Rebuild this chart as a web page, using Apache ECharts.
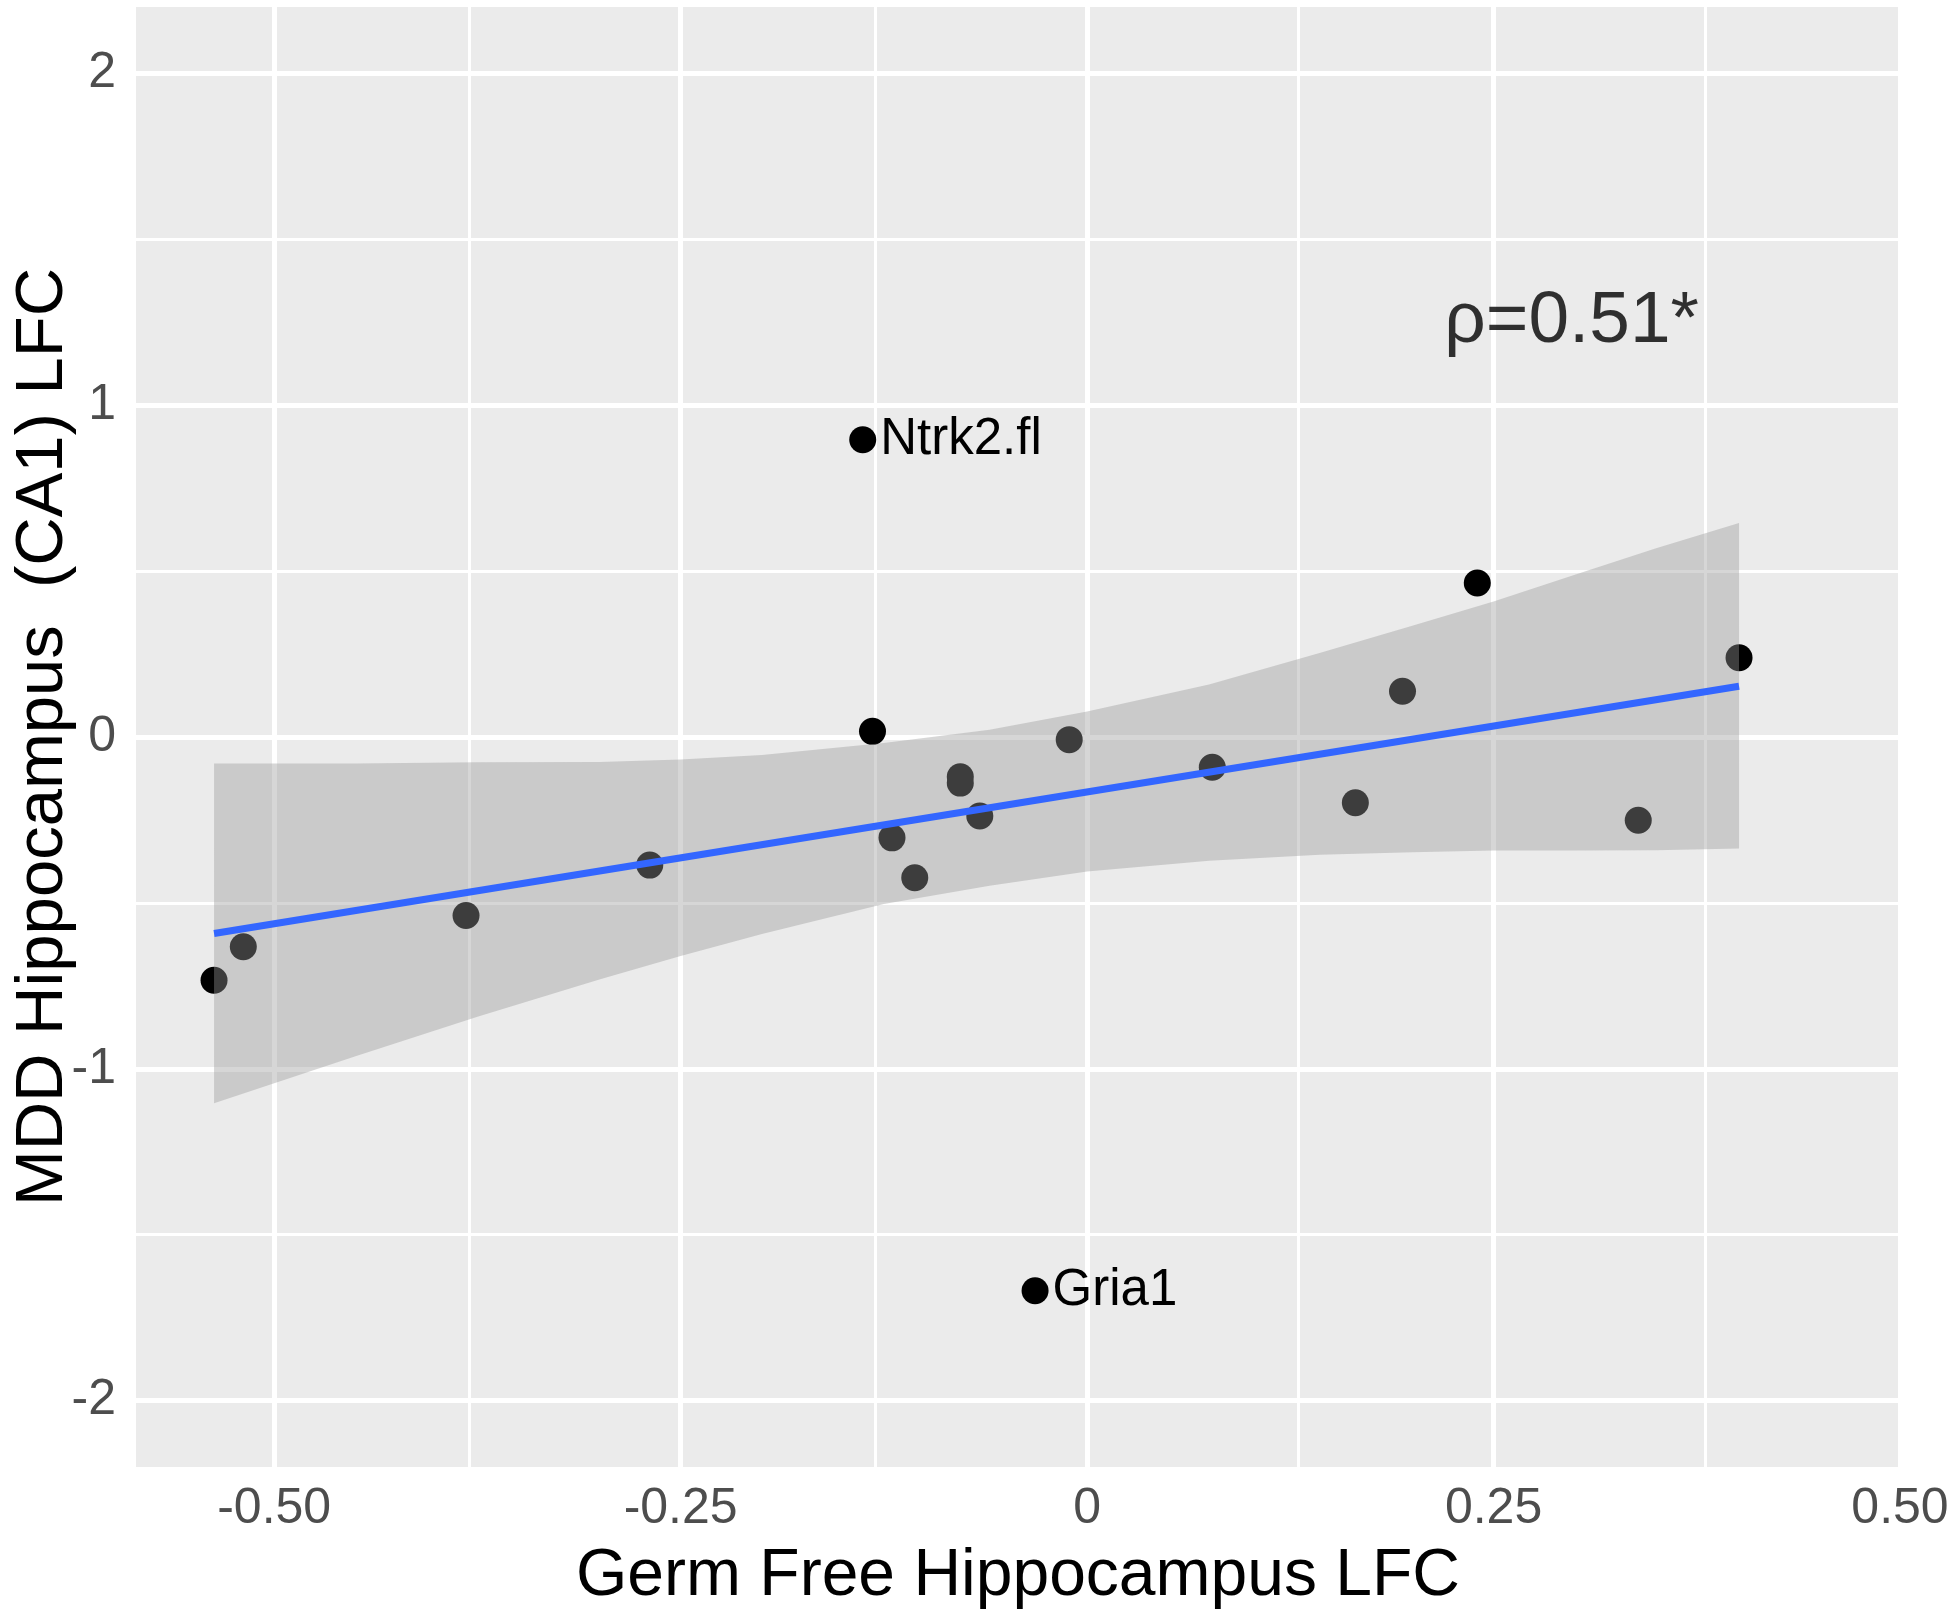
<!DOCTYPE html>
<html>
<head>
<meta charset="utf-8">
<title>Germ Free vs MDD Hippocampus LFC</title>
<script src="https://cdn.jsdelivr.net/npm/echarts@6/dist/echarts.min.js"></script>
<style>
html, body { margin: 0; padding: 0; background: #fff; }
#chart { width: 1950px; height: 1618px; }
</style>
</head>
<body>
<div id="chart"></div>
<script>
// one point per gene: x = germ free hippocampus LFC, y = MDD hippocampus (CA1) LFC
var gfLfc    = [-0.537, -0.519, -0.382, -0.269, -0.138, -0.132, -0.120, -0.106, -0.078, -0.078, -0.066, -0.011, 0.077, 0.165, 0.194, 0.240, 0.339, 0.401, -0.032];
var mddLfc   = [-0.733, -0.632, -0.538, -0.386, 0.896, 0.017, -0.304, -0.424, -0.120, -0.139, -0.238, -0.008, -0.091, -0.198, 0.138, 0.464, -0.251, 0.239, -1.669];
var geneName = ['', '', '', '', 'Ntrk2.fl', '', '', '', '', '', '', '', '', '', '', '', '', '', 'Gria1'];

// lm fit line and its 95% band
var fitX = [-0.537, 0.401];
var fitY = [-0.592, 0.153];
var bandX    = [-0.537, -0.45, -0.375, -0.3, -0.25, -0.2, -0.125, -0.06, 0, 0.075, 0.143, 0.2, 0.25, 0.3, 0.35, 0.401];
var bandLow  = [-1.104, -0.962, -0.843, -0.731, -0.660, -0.594, -0.503, -0.448, -0.405, -0.373, -0.355, -0.347, -0.342, -0.342, -0.341, -0.336];
var bandHigh = [-0.080, -0.080, -0.076, -0.075, -0.068, -0.054, -0.018, 0.022, 0.077, 0.158, 0.253, 0.335, 0.408, 0.489, 0.569, 0.645];

// axes
var xTicks = [-0.5, -0.25, 0, 0.25, 0.5];
var xTickLabels = ['-0.50', '-0.25', '0', '0.25', '0.50'];
var xMinor = [-0.375, -0.125, 0.125, 0.375];
var yTicks = [-2, -1, 0, 1, 2];
var yTickLabels = ['-2', '-1', '0', '1', '2'];
var yMinor = [-1.5, -0.5, 0.5, 1.5];

var rhoText = 'ρ=0.51*';
var rhoPos = [0.298, 1.25];

var FONT = 'Liberation Sans, Arial, Helvetica, sans-serif';

function tickText(values, labels) {
    return function (v) {
        for (var i = 0; i < values.length; i++) {
            if (Math.abs(values[i] - v) < 1e-9) return labels[i];
        }
        return '';
    };
}

function gridLine(key, v, w) {
    var d = { lineStyle: { color: '#ffffff', width: w, type: 'solid', opacity: 1 } };
    d[key] = v;
    return d;
}

var gridLines = [];
xMinor.forEach(function (v) { gridLines.push(gridLine('xAxis', v, 3)); });
yMinor.forEach(function (v) { gridLines.push(gridLine('yAxis', v, 3)); });
xTicks.forEach(function (v) { gridLines.push(gridLine('xAxis', v, 5)); });
yTicks.forEach(function (v) { gridLines.push(gridLine('yAxis', v, 5)); });

var pointData = [];
for (var i = 0; i < gfLfc.length; i++) {
    var item = { value: [gfLfc[i], mddLfc[i]] };
    if (geneName[i]) {
        item.name = geneName[i];
        item.label = { show: true };
    }
    pointData.push(item);
}

var bandData = [];
for (var j = 0; j < bandX.length; j++) {
    bandData.push([bandX[j], bandLow[j], bandHigh[j]]);
}

var chart = echarts.init(document.getElementById('chart'), null, { renderer: 'canvas' });
chart.setOption({
    animation: false,
    backgroundColor: '#ffffff',
    textStyle: { fontFamily: FONT },
    grid: {
        left: 136, right: 50, top: 7, bottom: 151,
        outerBoundsMode: 'none',
        containLabel: false,
        show: true, backgroundColor: '#EBEBEB', borderWidth: 0
    },
    xAxis: {
        type: 'value',
        min: -0.585, max: 0.5,
        name: 'Germ Free Hippocampus LFC',
        nameLocation: 'middle',
        nameGap: 77,
        nameMoveOverlap: false,
        nameTextStyle: { fontSize: 66, color: '#000', fontFamily: FONT },
        axisLine: { show: false },
        axisTick: { show: true, customValues: xTicks, length: 13, lineStyle: { color: '#333333', width: 3 } },
        axisLabel: { customValues: xTicks, formatter: tickText(xTicks, xTickLabels), fontSize: 50, color: '#4D4D4D', margin: 17, fontFamily: FONT },
        splitLine: { show: false }
    },
    yAxis: {
        type: 'value',
        min: -2.2, max: 2.2,
        name: 'MDD Hippocampus  (CA1) LFC',
        nameLocation: 'middle',
        nameRotate: 90,
        nameGap: 59,
        nameMoveOverlap: false,
        nameTextStyle: { fontSize: 67, color: '#000', fontFamily: FONT },
        axisLine: { show: false },
        axisTick: { show: true, customValues: yTicks, length: 13, lineStyle: { color: '#333333', width: 3 } },
        axisLabel: { customValues: yTicks, formatter: tickText(yTicks, yTickLabels), fontSize: 50, color: '#4D4D4D', margin: 20, fontFamily: FONT },
        splitLine: { show: false }
    },
    series: [
        {
            // panel grid lines, under everything else
            type: 'scatter',
            data: [],
            z: 1,
            silent: true,
            markLine: {
                z: 1,
                silent: true,
                animation: false,
                symbol: ['none', 'none'],
                label: { show: false },
                emphasis: { disabled: true },
                lineStyle: { type: 'solid' },
                data: gridLines
            }
        },
        {
            type: 'scatter',
            data: pointData,
            z: 2,
            symbolSize: 27,
            itemStyle: { color: '#000000', opacity: 1 },
            label: {
                show: false,
                position: 'right',
                distance: 4,
                formatter: '{b}',
                fontSize: 51,
                color: '#000000',
                fontFamily: FONT
            },
            emphasis: { disabled: true }
        },
        {
            // confidence band, one polygon over the points
            type: 'custom',
            data: bandData,
            z: 3,
            silent: true,
            encode: { x: 0, y: [1, 2] },
            renderItem: function (params, api) {
                if (params.dataIndexInside !== 0) return;
                var n = params.dataInsideLength;
                var pts = [];
                for (var k = 0; k < n; k++) pts.push(api.coord([api.value(0, k), api.value(2, k)]));
                for (var k2 = n - 1; k2 >= 0; k2--) pts.push(api.coord([api.value(0, k2), api.value(1, k2)]));
                return {
                    type: 'polygon',
                    shape: { points: pts },
                    style: { fill: 'rgba(153,153,153,0.4)' }
                };
            }
        },
        {
            type: 'line',
            data: [[fitX[0], fitY[0]], [fitX[1], fitY[1]]],
            z: 4,
            symbol: 'none',
            silent: true,
            lineStyle: { color: '#3366FF', width: 7 }
        },
        {
            type: 'scatter',
            data: [{ value: rhoPos, name: rhoText }],
            z: 5,
            symbolSize: 1,
            silent: true,
            itemStyle: { color: 'rgba(0,0,0,0)' },
            label: {
                show: true,
                position: 'inside',
                formatter: '{b}',
                fontSize: 73,
                color: '#000000',
                fontFamily: FONT
            }
        }
    ]
});
</script>
</body>
</html>
